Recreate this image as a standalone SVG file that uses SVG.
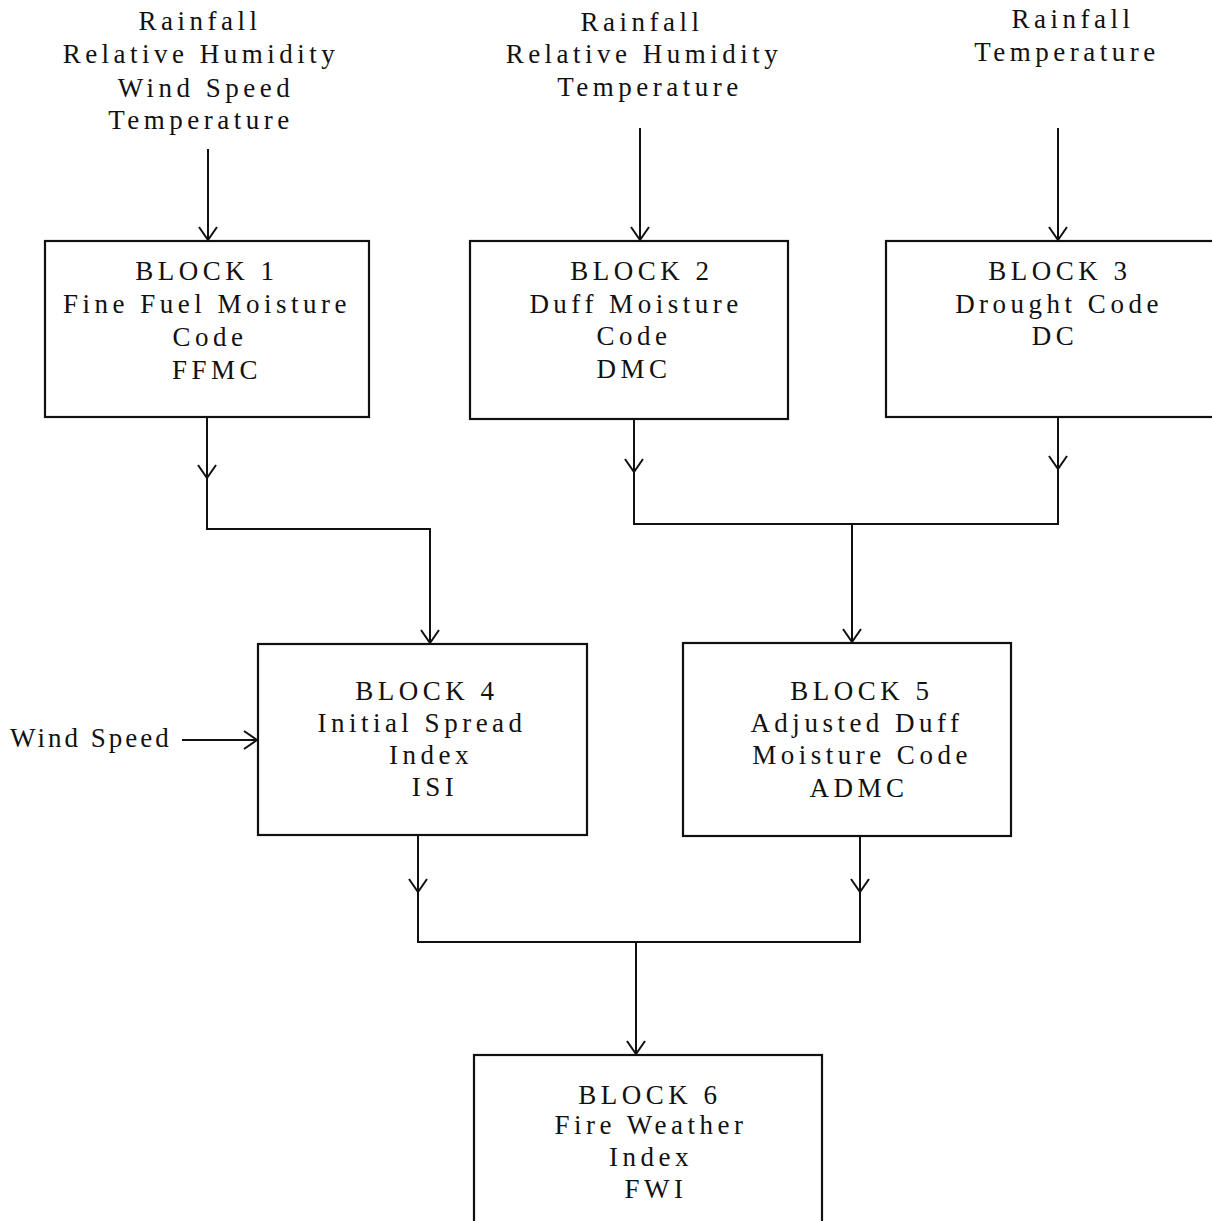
<svg xmlns="http://www.w3.org/2000/svg" xmlns:xlink="http://www.w3.org/1999/xlink" width="1212" height="1221" viewBox="0 0 1212 1221">
<style>
  .t { font-family: "Liberation Serif", "Times New Roman", serif; font-size: 27px; fill: #111; text-anchor: middle; letter-spacing: 4.5px; }
  .ws { font-family: "Liberation Serif", "Times New Roman", serif; font-size: 27px; fill: #111; letter-spacing: 3px; }
  .box { fill: #fff; stroke: #111; stroke-width: 2.2; }
  .ln { fill: none; stroke: #111; stroke-width: 2; }
  .ah { fill: none; stroke: #111; stroke-width: 2; stroke-linejoin: miter; }
</style>
<defs>
  <path id="ahd" class="ah" d="M-9,-13 L0,0 L9,-13"/>
  <path id="ahr" class="ah" d="M-13,-9 L0,0 L-13,9"/>
</defs>
<rect width="1212" height="1221" fill="#fff"/>

<g id="inputs">
  <text class="t" x="200" y="30">Rainfall</text>
  <text class="t" x="201" y="63">Relative Humidity</text>
  <text class="t" x="206" y="97">Wind Speed</text>
  <text class="t" x="201" y="129">Temperature</text>
  <text class="t" x="642" y="31">Rainfall</text>
  <text class="t" x="644" y="63">Relative Humidity</text>
  <text class="t" x="650" y="96">Temperature</text>
  <text class="t" x="1073" y="28">Rainfall</text>
  <text class="t" x="1067" y="61">Temperature</text>
  <text class="ws" x="10" y="747">Wind Speed</text>
</g>

<g id="block1">
  <rect class="box" x="45" y="241" width="324" height="176"/>
  <text class="t" x="207" y="280">BLOCK 1</text>
  <text class="t" x="207" y="313">Fine Fuel Moisture</text>
  <text class="t" x="210" y="346">Code</text>
  <text class="t" x="217" y="379">FFMC</text>
</g>
<g id="block2">
  <rect class="box" x="470" y="241" width="318" height="178"/>
  <text class="t" x="642" y="280">BLOCK 2</text>
  <text class="t" x="636" y="313">Duff Moisture</text>
  <text class="t" x="634" y="345">Code</text>
  <text class="t" x="634" y="378">DMC</text>
</g>
<g id="block3">
  <rect class="box" x="886" y="241" width="340" height="176"/>
  <text class="t" x="1060" y="280">BLOCK 3</text>
  <text class="t" x="1059" y="313">Drought Code</text>
  <text class="t" x="1055" y="345">DC</text>
</g>
<g id="block4">
  <rect class="box" x="258" y="644" width="329" height="191"/>
  <text class="t" x="427" y="700">BLOCK 4</text>
  <text class="t" x="422" y="732">Initial Spread</text>
  <text class="t" x="431" y="764">Index</text>
  <text class="t" x="435" y="796">ISI</text>
</g>
<g id="block5">
  <rect class="box" x="683" y="643" width="328" height="193"/>
  <text class="t" x="862" y="700">BLOCK 5</text>
  <text class="t" x="857" y="732">Adjusted Duff</text>
  <text class="t" x="862" y="764">Moisture Code</text>
  <text class="t" x="859" y="797">ADMC</text>
</g>
<g id="block6">
  <rect class="box" x="474" y="1055" width="348" height="180"/>
  <text class="t" x="650" y="1104">BLOCK 6</text>
  <text class="t" x="651" y="1134">Fire Weather</text>
  <text class="t" x="651" y="1166">Index</text>
  <text class="t" x="656" y="1198">FWI</text>
</g>

<g id="connectors">
  <line class="ln" x1="208" y1="149" x2="208" y2="240"/>
  <use xlink:href="#ahd" x="208" y="240"/>
  <line class="ln" x1="640" y1="128" x2="640" y2="240"/>
  <use xlink:href="#ahd" x="640" y="240"/>
  <line class="ln" x1="1058" y1="128" x2="1058" y2="240"/>
  <use xlink:href="#ahd" x="1058" y="240"/>

  <path class="ln" d="M207,418 V529 H430 V643"/>
  <use xlink:href="#ahd" x="207" y="478"/>
  <use xlink:href="#ahd" x="430" y="643"/>

  <path class="ln" d="M634,419 V524 H1058 V417"/>
  <use xlink:href="#ahd" x="634" y="472"/>
  <use xlink:href="#ahd" x="1058" y="469"/>
  <line class="ln" x1="852" y1="524" x2="852" y2="642"/>
  <use xlink:href="#ahd" x="852" y="642"/>

  <line class="ln" x1="182" y1="740" x2="257" y2="740"/>
  <use xlink:href="#ahr" x="257" y="740"/>

  <path class="ln" d="M418,835 V942 H860 V836"/>
  <use xlink:href="#ahd" x="418" y="892"/>
  <use xlink:href="#ahd" x="860" y="892"/>
  <line class="ln" x1="636" y1="942" x2="636" y2="1054"/>
  <use xlink:href="#ahd" x="636" y="1054"/>
</g>
</svg>
